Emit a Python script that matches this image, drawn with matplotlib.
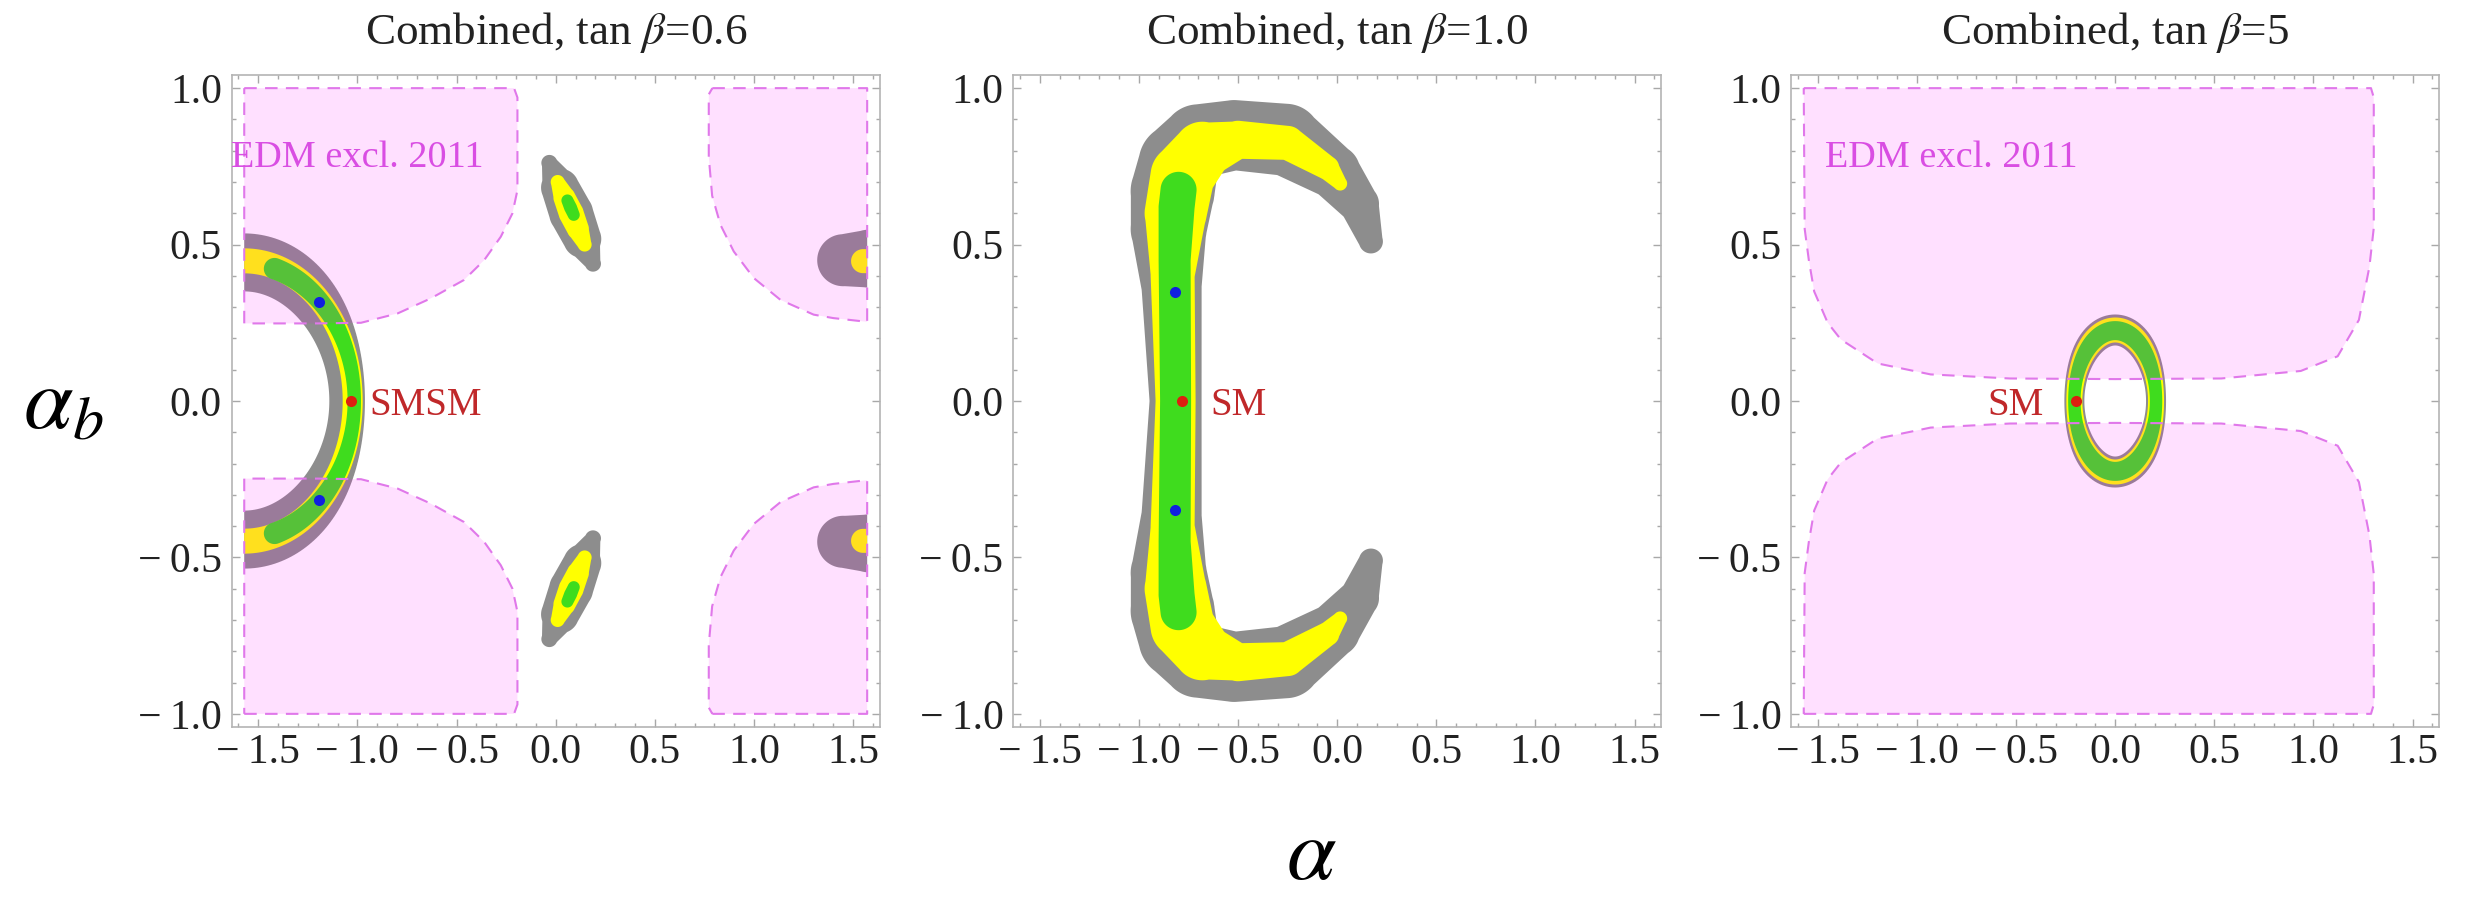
import matplotlib

matplotlib.use("Agg")

import numpy as np
from matplotlib import pyplot as plt
from matplotlib.ticker import FixedLocator, FuncFormatter

# ---- axes ranges / ticks -------------------------------------------------
X_RANGE = (-1.5708, 1.5708)
Y_RANGE = (-1.0, 1.0)
X_LIM = (-1.634, 1.634)
Y_LIM = (-1.042, 1.042)
X_TICKS = [-1.5, -1.0, -0.5, 0.0, 0.5, 1.0, 1.5]
Y_TICKS = [-1.0, -0.5, 0.0, 0.5, 1.0]
TITLES = [
    r"Combined, tan $\beta$=0.6",
    r"Combined, tan $\beta$=1.0",
    r"Combined, tan $\beta$=5",
]

# ---- panel 1 (tan beta = 0.6) ---------------------------------------------
# crescent around alpha = -pi/2: (a, b, half-width x px, half-width y px, max angle)
CRESCENT_CENTER = (-1.5708, 0.0)
CRESCENT_GRAY = (0.519, 0.443, 17.8, 29.0, 100)
CRESCENT_YELLOW = (0.547, 0.448, 10.0, 12.5, 100)
CRESCENT_GREEN = (0.555, 0.440, 6.7, 11.0, 74)
# tilted islands near alpha ~ 0.08 (upper one, lower is mirrored)
ISLAND_GRAY_X = [-0.032, 0.022, 0.078, 0.134, 0.188]
ISLAND_GRAY_Y = [0.761, 0.682, 0.600, 0.518, 0.439]
ISLAND_GRAY_W = [8, 19, 22, 19, 8]
ISLAND_YELLOW_X = [0.010, 0.044, 0.078, 0.112, 0.146]
ISLAND_YELLOW_Y = [0.700, 0.650, 0.600, 0.550, 0.500]
ISLAND_YELLOW_W = [7, 11, 12.5, 11, 7]
ISLAND_GREEN_X = [0.059, 0.075, 0.091]
ISLAND_GREEN_Y = [0.641, 0.618, 0.595]
ISLAND_GREEN_W = [6, 6.5, 6]
# half islands at the right edge
EDGE_GRAY_X, EDGE_GRAY_Y, EDGE_GRAY_W = [1.45, 1.58, 1.70], [0.450, 0.455, 0.455], [26, 29, 29]
EDGE_YELLOW_X, EDGE_YELLOW_Y, EDGE_YELLOW_W = [1.55, 1.70], [0.447, 0.447], [12, 12]
# EDM exclusion, upper-left and upper-right pieces (lower ones mirrored)
EDM1_LEFT_X = [-1.5708, -0.21, -0.193, -0.193, -0.218, -0.277, -0.361, -0.462, -0.630, -0.797, -0.982, -1.20, -1.5708]
EDM1_LEFT_Y = [1.0, 1.0, 0.97, 0.674, 0.600, 0.525, 0.450, 0.387, 0.328, 0.280, 0.250, 0.248, 0.248]
EDM1_RIGHT_X = [0.79, 1.5708, 1.5708, 1.40, 1.301, 1.134, 0.999, 0.898, 0.831, 0.789, 0.772, 0.772]
EDM1_RIGHT_Y = [1.0, 1.0, 0.253, 0.265, 0.276, 0.323, 0.393, 0.478, 0.563, 0.656, 0.78, 0.98]
SM1 = (-1.030, 0.0)
BEST1_X, BEST1_Y = [-1.192, -1.192], [0.318, -0.318]

# ---- panel 2 (tan beta = 1.0): C shape, upper half of each band ------------
C_GRAY_X = [-0.815, -0.835, -0.85, -0.83, -0.80, -0.70, -0.52, -0.26, -0.02, 0.11, 0.17]
C_GRAY_Y = [0.0, 0.36, 0.55, 0.67, 0.76, 0.83, 0.85, 0.835, 0.733, 0.63, 0.51]
C_GRAY_W = [26, 30, 38, 42, 40, 37, 35, 36, 27, 20, 12]
C_YELLOW_X = [-0.815, -0.83, -0.815, -0.78, -0.68, -0.50, -0.25, -0.05, 0.015]
C_YELLOW_Y = [0.0, 0.40, 0.60, 0.72, 0.80, 0.835, 0.825, 0.745, 0.695]
C_YELLOW_W = [20, 22, 31, 32, 29, 19, 17, 12, 7]
C_GREEN_X = [-0.815, -0.82, -0.81, -0.80]
C_GREEN_Y = [0.0, 0.45, 0.62, 0.675]
C_GREEN_W = [15.5, 16, 18, 18]
SM2 = (-0.785, 0.0)
BEST2_X, BEST2_Y = [-0.817, -0.817], [0.347, -0.347]

# ---- panel 3 (tan beta = 5): ring -----------------------------------------
RING_CENTER = (0.0, 0.0)
RING_GRAY = (0.206, 0.227, 10.0, 15.5, 180)
RING_YELLOW = (0.206, 0.227, 8.0, 12.5, 180)
RING_GREEN = (0.206, 0.225, 6.2, 9.5, 180)
EDM3_X = [-1.5708, 1.29, 1.304, 1.304, 1.282, 1.229, 1.122, 0.936, 0.535, 0.0, -0.531, -0.931,
          -1.198, -1.384, -1.45, -1.518, -1.545, -1.566]
EDM3_Y = [1.0, 1.0, 0.97, 0.553, 0.429, 0.259, 0.143, 0.096, 0.072, 0.070, 0.072, 0.085,
          0.12, 0.197, 0.25, 0.35, 0.45, 0.55]
SM3 = (-0.197, 0.0)

# ---- styling ----------------------------------------------------------------
GRAY = "#8d8d8d"
YELLOW = "#ffff00"
GREEN = "#3fdc1e"
EDM_FILL = (1.0, 0.0, 1.0)
EDM_EDGE = "#e078ea"
EDM_TEXT = "#d94ee3"
SM_RED = "#dc1f10"
SM_TEXT = "#c0282a"
BEST_BLUE = "#1020e0"

FIG_W, FIG_H = 2470, 907
AX_LEFTS = [231.7, 1013.2, 1791.2]
AX_TOP, AX_W, AX_H = 75.0, 648.0, 652.0
PX_PER_X = AX_W / (X_LIM[1] - X_LIM[0])
PX_PER_Y = AX_H / (Y_LIM[1] - Y_LIM[0])

plt.rcParams["font.family"] = "serif"
plt.rcParams["font.serif"] = ["Liberation Serif", "DejaVu Serif"]
plt.rcParams["mathtext.fontset"] = "stix"


def _stroke_field(xs, ys, ws, gx, gy):
    """Distance to a variable-width polyline in pixels, 1 at the band edge."""
    px, py = gx * PX_PER_X, gy * PX_PER_Y
    field = np.full(gx.shape, np.inf)
    pts = list(zip(xs, ys, ws))
    for (x0, y0, w0), (x1, y1, w1) in zip(pts[:-1], pts[1:]):
        ax0, ay0 = x0 * PX_PER_X, y0 * PX_PER_Y
        dx, dy = (x1 - x0) * PX_PER_X, (y1 - y0) * PX_PER_Y
        t = np.clip(((px - ax0) * dx + (py - ay0) * dy) / (dx * dx + dy * dy), 0.0, 1.0)
        dist = np.hypot(px - ax0 - t * dx, py - ay0 - t * dy)
        field = np.minimum(field, dist / (w0 + t * (w1 - w0)))
    return field


def _ellipse_ridge(center, spec):
    a, b, wx, wy, th_max = spec
    th = np.radians(np.linspace(-th_max, th_max, 145))
    xs = center[0] + a * np.cos(th)
    ys = center[1] + b * np.sin(th)
    ws = np.hypot(wx * np.cos(th), wy * np.sin(th))
    return list(xs), list(ys), list(ws)


def _mirror(xs, ys, ws):
    return list(xs), [-v for v in ys], list(ws)


def _full_c(xs, ys, ws):
    """Join an upper half band with its mirror image below alpha_b = 0."""
    return (
        list(xs[::-1]) + list(xs[1:]),
        [-v for v in ys[::-1]] + list(ys[1:]),
        list(ws[::-1]) + list(ws[1:]),
    )


def _draw_bands(ax, layers):
    gx, gy = np.meshgrid(np.linspace(*X_RANGE, 900), np.linspace(*Y_RANGE, 600))
    for color, ridges in layers:
        field = np.full(gx.shape, np.inf)
        for xs, ys, ws in ridges:
            field = np.minimum(field, _stroke_field(xs, ys, ws, gx, gy))
        ax.contourf(gx, gy, field, levels=[-1.0, 1.0], colors=[color], zorder=1, antialiased=True)


def _draw_edm(ax, xs, ys):
    for sign in (1, -1):
        py = [sign * v for v in ys]
        ax.fill(xs, py, facecolor=EDM_FILL, alpha=0.12, linewidth=0, zorder=2)
        ax.plot(list(xs) + [xs[0]], py + [py[0]], color=EDM_EDGE, linewidth=1.5,
                linestyle=(0, (6, 4)), zorder=3)


def _style_axes(ax, title):
    ax.set_xlim(*X_LIM)
    ax.set_ylim(*Y_LIM)
    ax.xaxis.set_major_locator(FixedLocator(X_TICKS))
    ax.yaxis.set_major_locator(FixedLocator(Y_TICKS))
    ax.xaxis.set_minor_locator(FixedLocator(np.round(np.arange(-1.6, 1.61, 0.1), 2)))
    ax.yaxis.set_minor_locator(FixedLocator(np.round(np.arange(-1.0, 1.01, 0.1), 2)))
    fmt = FuncFormatter(lambda v, _: f"{v:.1f}".replace("-", "\u2212\u2009"))
    ax.xaxis.set_major_formatter(fmt)
    ax.yaxis.set_major_formatter(fmt)
    ax.tick_params(which="both", direction="in", top=True, right=True, color="#a8a8a8", width=1.0)
    ax.tick_params(which="major", length=5.8, labelsize=30, labelcolor="#222222")
    ax.tick_params(axis="y", which="major", pad=7)
    ax.tick_params(axis="x", which="major", pad=5)
    ax.tick_params(which="minor", length=2.9)
    for spine in ax.spines.values():
        spine.set_color("#b4b4b4")
        spine.set_linewidth(1.2)
    ax.set_title(title, fontsize=32.5, pad=22, color="#222222")


def _mark_points(ax, sm, best_x, best_y, label, label_xy):
    if best_x:
        ax.plot(best_x, best_y, "o", color=BEST_BLUE, markersize=8, markeredgewidth=0, zorder=4)
    ax.plot([sm[0]], [sm[1]], "o", color=SM_RED, markersize=8, markeredgewidth=0, zorder=4)
    ax.text(label_xy[0], label_xy[1], label, color=SM_TEXT, fontsize=28, ha="left",
            va="baseline", zorder=5)


fig = plt.figure(figsize=(FIG_W / 100, FIG_H / 100), dpi=100)
axes = [
    fig.add_axes([left / FIG_W, 1 - (AX_TOP + AX_H) / FIG_H, AX_W / FIG_W, AX_H / FIG_H])
    for left in AX_LEFTS
]

# panel 1
ax = axes[0]
island_gray = (ISLAND_GRAY_X, ISLAND_GRAY_Y, ISLAND_GRAY_W)
island_yellow = (ISLAND_YELLOW_X, ISLAND_YELLOW_Y, ISLAND_YELLOW_W)
island_green = (ISLAND_GREEN_X, ISLAND_GREEN_Y, ISLAND_GREEN_W)
edge_gray = (EDGE_GRAY_X, EDGE_GRAY_Y, EDGE_GRAY_W)
edge_yellow = (EDGE_YELLOW_X, EDGE_YELLOW_Y, EDGE_YELLOW_W)
_draw_bands(ax, [
    (GRAY, [_ellipse_ridge(CRESCENT_CENTER, CRESCENT_GRAY), island_gray, _mirror(*island_gray),
            edge_gray, _mirror(*edge_gray)]),
    (YELLOW, [_ellipse_ridge(CRESCENT_CENTER, CRESCENT_YELLOW), island_yellow,
              _mirror(*island_yellow), edge_yellow, _mirror(*edge_yellow)]),
    (GREEN, [_ellipse_ridge(CRESCENT_CENTER, CRESCENT_GREEN), island_green, _mirror(*island_green)]),
])
_draw_edm(ax, EDM1_LEFT_X, EDM1_LEFT_Y)
_draw_edm(ax, EDM1_RIGHT_X, EDM1_RIGHT_Y)
ax.text(-1.637, 0.749, "EDM excl. 2011", color=EDM_TEXT, fontsize=27.5, ha="left", va="baseline", zorder=5)
_mark_points(ax, SM1, BEST1_X, BEST1_Y, "SMSM", (-0.94, -0.045))
_style_axes(ax, TITLES[0])

# panel 2
ax = axes[1]
_draw_bands(ax, [
    (GRAY, [_full_c(C_GRAY_X, C_GRAY_Y, C_GRAY_W)]),
    (YELLOW, [_full_c(C_YELLOW_X, C_YELLOW_Y, C_YELLOW_W)]),
    (GREEN, [_full_c(C_GREEN_X, C_GREEN_Y, C_GREEN_W)]),
])
_mark_points(ax, SM2, BEST2_X, BEST2_Y, "SM", (-0.642, -0.045))
_style_axes(ax, TITLES[1])

# panel 3
ax = axes[2]
_draw_bands(ax, [
    (GRAY, [_ellipse_ridge(RING_CENTER, RING_GRAY)]),
    (YELLOW, [_ellipse_ridge(RING_CENTER, RING_YELLOW)]),
    (GREEN, [_ellipse_ridge(RING_CENTER, RING_GREEN)]),
])
_draw_edm(ax, EDM3_X, EDM3_Y)
ax.text(-1.464, 0.747, "EDM excl. 2011", color=EDM_TEXT, fontsize=27.5, ha="left", va="baseline", zorder=5)
_mark_points(ax, SM3, [], [], "SM", (-0.643, -0.045))
_style_axes(ax, TITLES[2])

fig.text(63.5 / FIG_W, 1 - 407 / FIG_H, r"$\alpha_b$", fontsize=64, ha="center", va="center")
fig.text(1311 / FIG_W, 1 - 857 / FIG_H, r"$\alpha$", fontsize=64, ha="center", va="center")

fig.savefig("out.png", dpi=100)
plt.close(fig)
